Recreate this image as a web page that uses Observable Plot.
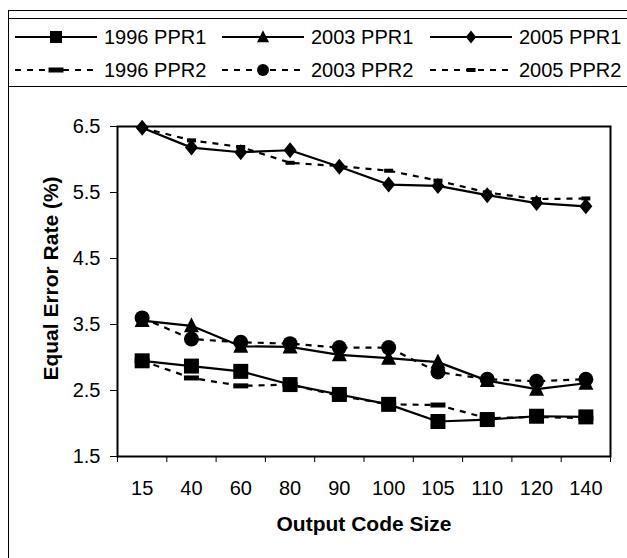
<!DOCTYPE html>
<html><head><meta charset="utf-8">
<script src="https://cdn.jsdelivr.net/npm/d3@7"></script>
<script src="https://cdn.jsdelivr.net/npm/@observablehq/plot@0.6"></script>
<style>
html,body{margin:0;padding:0;background:#fff;overflow:hidden;}
body{width:627px;height:558px;position:relative;font-family:"Liberation Sans",Arial,sans-serif;}
#outer{position:absolute;left:8px;top:10px;width:700px;height:700px;border:1.3px solid #000;box-sizing:border-box;}
#legend{position:absolute;left:8px;top:18px;width:700px;height:69px;border:1.3px solid #000;box-sizing:border-box;}
#chart{position:absolute;left:0;top:90px;}
.lg-text{position:absolute;font-size:20px;line-height:20px;white-space:nowrap;transform:translateY(-50%);color:#000;}
.lg-svg{position:absolute;overflow:visible;}
</style></head><body>
<div id="outer"></div><div id="legend"></div><div id="chart"></div>
<script>
// ---- data ----
const categories = ["15","40","60","80","90","100","105","110","120","140"];
const seriesNames = ["1996 PPR1","2003 PPR1","2005 PPR1","1996 PPR2","2003 PPR2","2005 PPR2"];
const ppr1_1996 = [2.95, 2.87, 2.79, 2.59, 2.44, 2.29, 2.03, 2.06, 2.11, 2.10];
const ppr1_2003 = [3.56, 3.48, 3.17, 3.16, 3.04, 2.99, 2.93, 2.65, 2.52, 2.61];
const ppr1_2005 = [6.48, 6.18, 6.11, 6.14, 5.89, 5.62, 5.60, 5.46, 5.34, 5.29];
const ppr2_1996 = [2.95, 2.69, 2.57, 2.59, 2.42, 2.29, 2.28, 2.08, 2.10, 2.08];
const ppr2_2003 = [3.60, 3.28, 3.23, 3.21, 3.15, 3.15, 2.78, 2.67, 2.64, 2.67];
const ppr2_2005 = [6.48, 6.29, 6.19, 5.95, 5.90, 5.83, 5.68, 5.50, 5.40, 5.41];
const yTicks = [1.5, 2.5, 3.5, 4.5, 5.5, 6.5];
const xTitle = "Output Code Size";
const yTitle = "Equal Error Rate (%)";

// ---- marker shapes ----
function mk(k){
  return {
    square:{draw(c){c.rect(-7.5*k,-7.5*k,15*k,15*k);}},
    triangle:{draw(c){c.moveTo(0,-8.5*k);c.lineTo(7.5*k,6.5*k);c.lineTo(-7.5*k,6.5*k);c.closePath();}},
    diamond:{draw(c){c.moveTo(0,-8*k);c.lineTo(6.5*k,0);c.lineTo(0,8*k);c.lineTo(-6.5*k,0);c.closePath();}},
    circle:{draw(c){c.moveTo(7.5*k,0);c.arc(0,0,7.5*k,0,2*Math.PI);c.closePath();}},
    dashWide:{draw(c){c.rect(-7.5,-2.5,15,5);}},
    dashSmall:{draw(c){c.rect(-4.5,-2,9,4);}}
  };
}
const S = mk(1), SL = mk(0.8);
const markerKey = ["square","triangle","diamond","dashWide","circle","dashSmall"];
const dashed = [false,false,false,true,true,true];
const valuesList = [ppr1_1996, ppr1_2003, ppr1_2005, ppr2_1996, ppr2_2003, ppr2_2005];
const DASH = "6,6";

const marks = [
  Plot.axisY({ticks:yTicks, tickSize:7, tickPadding:10, tickFormat:d=>d.toFixed(1), label:null, fontSize:20}),
  Plot.axisX({ticks:d3.range(0,11), tickSize:6, tickFormat:()=>"", label:null}),
  Plot.axisX({ticks:categories.map((_,i)=>i+0.5), tickSize:0, tickPadding:24, tickFormat:d=>categories[Math.round(d-0.5)], label:null, fontSize:20}),
  Plot.frame({stroke:"black", strokeWidth:2})
];
valuesList.forEach((vals, s) => {
  const rows = vals.map((v,i)=>({x:i+0.5, y:v, series:seriesNames[s]}));
  marks.push(Plot.line(rows, {x:"x", y:"y", stroke:"black", strokeWidth:2.2, strokeDasharray: dashed[s] ? DASH : null, strokeLinecap:"butt"}));
  marks.push(Plot.dot(rows, {x:"x", y:"y", r:5, symbol:S[markerKey[s]], fill:"black", stroke:"none"}));
});
marks.push(Plot.text([yTitle], {text:d=>d, frameAnchor:"left", dx:-66, dy:-13, rotate:-90, textAnchor:"middle", lineAnchor:"middle", fontWeight:"bold", fontSize:21}));
marks.push(Plot.text([xTitle], {text:d=>d, frameAnchor:"bottom", dy:68, textAnchor:"middle", lineAnchor:"middle", fontWeight:"bold", fontSize:21}));

const chart = Plot.plot({
  width:627, height:468,
  marginLeft:117, marginRight:17, marginTop:36, marginBottom:102,
  x:{domain:[0,10]}, y:{domain:[1.5,6.5]},
  style:{fontFamily:'"Liberation Sans",Arial,sans-serif', fontSize:"20px", background:"transparent", color:"black"},
  marks
});
document.getElementById("chart").appendChild(chart);

// ---- legend ----
const itemX = [15, 222, 430];
const rowY = [37, 70];
seriesNames.forEach((name, s) => {
  const col = s % 3, row = Math.floor(s / 3);
  const x0 = itemX[col], y0 = rowY[row];
  const svg = d3.select("body").append("svg").attr("class","lg-svg")
    .attr("width",82).attr("height",20)
    .style("left", x0+"px").style("top", (y0-10)+"px");
  svg.append("line").attr("x1",0).attr("x2",82).attr("y1",10).attr("y2",10)
    .attr("stroke","black").attr("stroke-width",2.2)
    .attr("stroke-dasharray", dashed[s] ? DASH : null);
  const p = d3.path();
  SL[markerKey[s]].draw(p);
  svg.append("path").attr("transform","translate(41,10)").attr("d", p.toString()).attr("fill","black");
  d3.select("body").append("div").attr("class","lg-text")
    .style("left", (x0+89)+"px").style("top", y0+"px").text(name);
});
</script>
</body></html>
